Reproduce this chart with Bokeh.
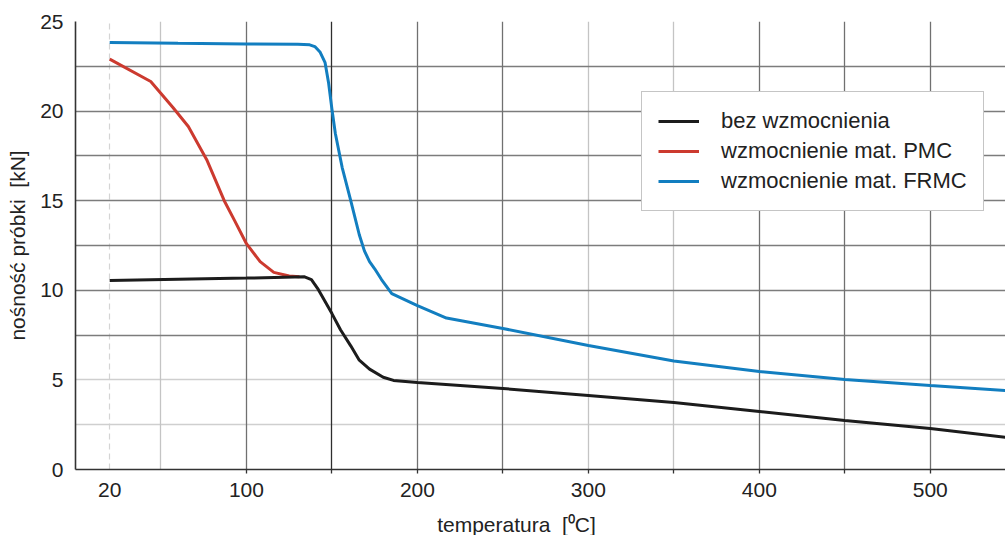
from bokeh.plotting import figure
from bokeh.models import Range1d, FixedTicker, Grid, Legend, LegendItem, Label
from bokeh.embed import file_html
from bokeh.resources import INLINE

# ---- data ----
labels = ["bez wzmocnienia", "wzmocnienie mat. PMC", "wzmocnienie mat. FRMC"]

t_bez = [20, 60, 100, 134, 138, 142, 150, 155, 161, 166, 172, 180, 186, 200, 250, 300, 350, 400, 450, 500, 545]
f_bez = [10.55, 10.62, 10.68, 10.75, 10.6, 10.05, 8.7, 7.8, 6.9, 6.1, 5.6, 5.15, 4.97, 4.86, 4.52, 4.13, 3.74, 3.24, 2.73, 2.29, 1.78]

t_pmc = [20, 44, 57, 66, 77, 87, 93, 100, 108, 116, 125, 131]
f_pmc = [22.9, 21.65, 20.2, 19.14, 17.24, 15.0, 13.9, 12.6, 11.6, 11.0, 10.8, 10.75]

t_frmc = [20, 60, 100, 130, 137, 140, 143, 146, 148, 150, 152, 156, 161, 166, 169, 172, 175, 179, 185, 200, 217, 250, 300, 350, 400, 450, 500, 545]
f_frmc = [23.83, 23.78, 23.75, 23.73, 23.7, 23.6, 23.3, 22.7, 21.6, 20.1, 18.75, 16.85, 15.0, 13.1, 12.2, 11.6, 11.2, 10.6, 9.82, 9.15, 8.45, 7.87, 6.92, 6.05, 5.47, 5.02, 4.69, 4.4]

x_tick_labels = [20, 100, 200, 300, 400, 500]
x_tick_marks = [100, 150, 200, 250, 300, 350, 400, 450, 500]
y_ticks = [0, 5, 10, 15, 20, 25]

# grid lines (the scanned original has lines of different shades)
vgrid_dark = [100, 200, 250, 400, 450, 500]
vgrid_black = [150]
vgrid_light = [50, 300, 350]
vgrid_dashed = [20]
hgrid_dark = [7.5, 10, 12.5, 15, 17.5, 20, 22.5, 25]
hgrid_light = [2.5, 5]

FONT = "Liberation Sans"

p = figure(width=1005, height=535, output_backend="svg", toolbar_location=None,
           x_range=Range1d(0, 544), y_range=Range1d(0, 25),
           min_border_left=75, min_border_right=0, min_border_top=21, min_border_bottom=66,
           background_fill_color="white", border_fill_color="white")
p.outline_line_color = None
p.grid.grid_line_color = None


def add_grid(dim, ticks, color, width=1.3, dash="solid"):
    g = Grid(dimension=dim, ticker=FixedTicker(ticks=ticks),
             grid_line_color=color, grid_line_width=width, grid_line_dash=dash)
    p.add_layout(g)


add_grid(0, vgrid_dashed, "#d4d4d4", 1.2, "6 4")
add_grid(1, hgrid_light, "#cfcfcf")
add_grid(0, vgrid_light, "#c4c4c4")
add_grid(1, hgrid_dark, "#7c7c7c")
add_grid(0, vgrid_dark, "#707070")
add_grid(0, vgrid_black, "#2e2e2e")

# axes
xa = p.xaxis[0]
xa.ticker = FixedTicker(ticks=x_tick_labels, minor_ticks=x_tick_marks)
xa.major_tick_out = 0
xa.major_tick_in = 0
xa.minor_tick_out = 4
xa.minor_tick_in = 0
xa.minor_tick_line_color = "#333333"
xa.minor_tick_line_width = 1.3
xa.axis_line_color = "#333333"
xa.axis_line_width = 1.6
xa.major_label_text_font = FONT
xa.major_label_text_font_size = "21px"
xa.major_label_text_color = "#222222"
xa.major_label_standoff = 9

ya = p.yaxis[0]
ya.ticker = FixedTicker(ticks=y_ticks)
ya.major_tick_out = 0
ya.major_tick_in = 0
ya.minor_tick_out = 0
ya.minor_tick_in = 0
ya.axis_line_color = "#333333"
ya.axis_line_width = 1.6
ya.major_label_text_font = FONT
ya.major_label_text_font_size = "21px"
ya.major_label_text_color = "#222222"
ya.major_label_standoff = 12
ya.axis_label = "nośność próbki\u00a0 [kN]"
ya.axis_label_text_font = FONT
ya.axis_label_text_font_size = "21px"
ya.axis_label_text_font_style = "normal"
ya.axis_label_text_color = "#222222"
ya.axis_label_standoff = 8

# lines
r_pmc = p.line(t_pmc, f_pmc, line_color="#cc3a2f", line_width=3)
r_bez = p.line(t_bez, f_bez, line_color="#1c1c1c", line_width=3)
r_frmc = p.line(t_frmc, f_frmc, line_color="#127ec0", line_width=3)

legend = Legend(items=[LegendItem(label=labels[0], renderers=[r_bez]),
                       LegendItem(label=labels[1], renderers=[r_pmc]),
                       LegendItem(label=labels[2], renderers=[r_frmc])],
                location=(566, 258),
                glyph_width=41, glyph_height=26, label_height=26,
                label_standoff=22, spacing=4, padding=16, margin=0,
                border_line_color="#8c8c8c", border_line_width=1.3,
                background_fill_color="white", background_fill_alpha=1.0,
                label_text_font=FONT, label_text_font_size="22px",
                label_text_color="#222222")
p.add_layout(legend)

xlabel = Label(x=441, y=-13, x_units="screen", y_units="screen",
               text="temperatura\u00a0 [\u2070C]", text_align="center",
               text_baseline="bottom", text_font=FONT,
               text_font_size="21px", text_color="#222222")
p.add_layout(xlabel, "below")

open("out.html", "w").write(file_html(p, INLINE))
